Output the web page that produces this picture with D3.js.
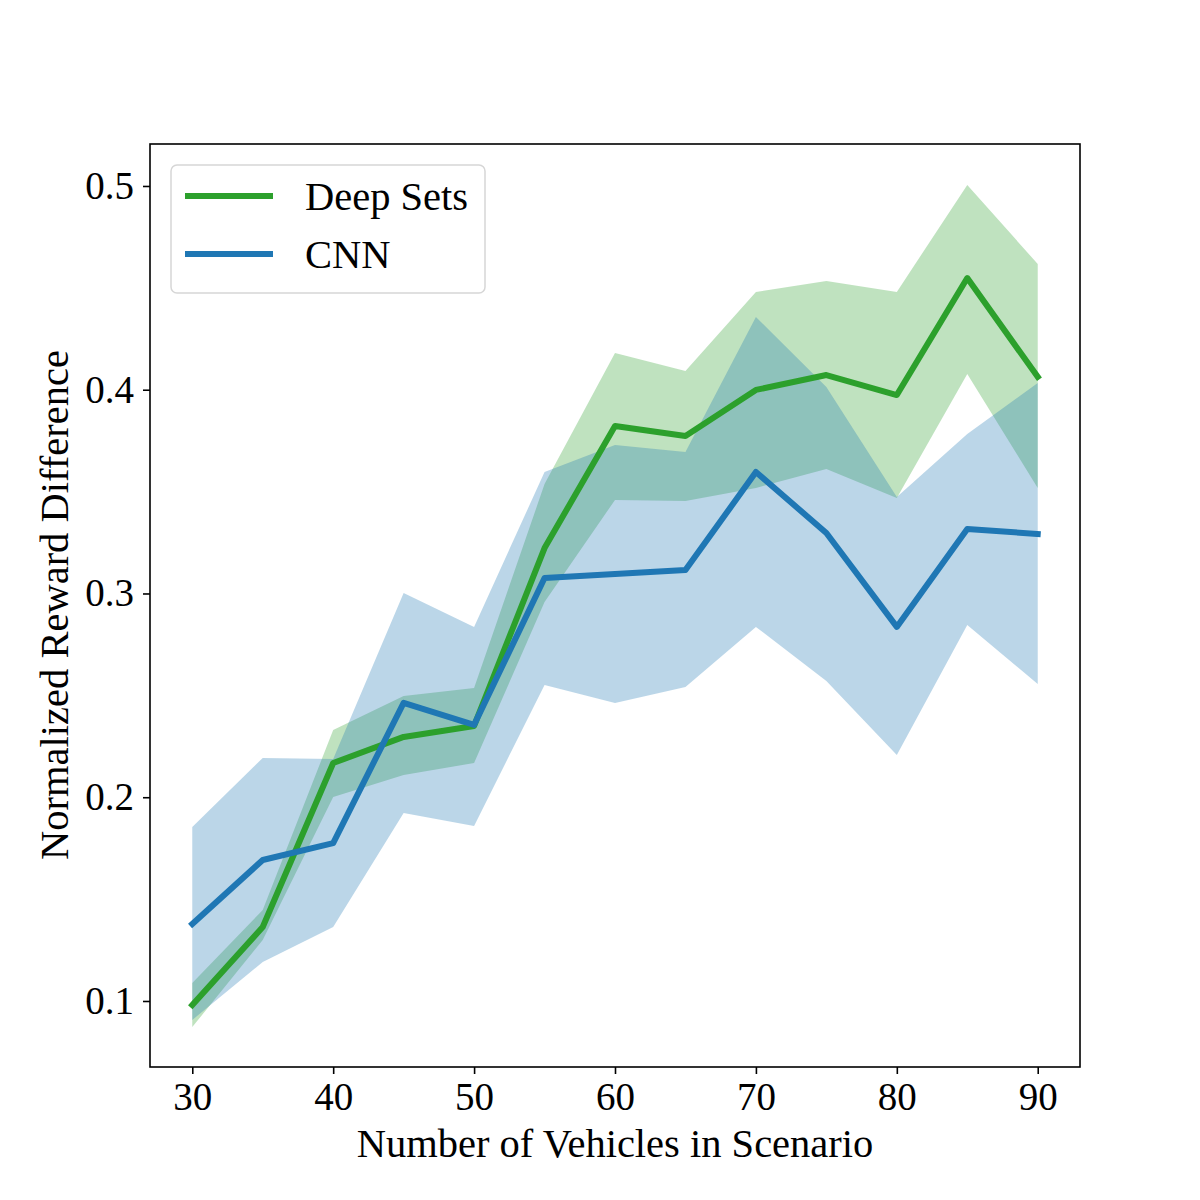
<!DOCTYPE html>
<html>
<head>
<meta charset="utf-8">
<script src="https://cdn.jsdelivr.net/npm/d3@7"></script>
<style>
  html, body { margin: 0; padding: 0; background: #fff; }
  svg { display: block; }
  text { font-family: "Liberation Serif", "DejaVu Serif", serif; fill: #000; }
</style>
</head>
<body>
<svg id="chart" width="1200" height="1200"></svg>
<script>
// ---- data ----
const vehicles = [30, 35, 40, 45, 50, 55, 60, 65, 70, 75, 80, 85, 90];

const deepSetsMean  = [0.0980, 0.1363, 0.2168, 0.2296, 0.2350, 0.3223, 0.3822, 0.3773, 0.3999, 0.4072, 0.3974, 0.4548, 0.4063];
const deepSetsUpper = [0.1088, 0.1447, 0.2330, 0.2497, 0.2536, 0.3537, 0.4180, 0.4092, 0.4480, 0.4534, 0.4480, 0.5005, 0.4617];
const deepSetsLower = [0.0872, 0.1299, 0.2001, 0.2109, 0.2168, 0.2958, 0.3459, 0.3454, 0.3518, 0.3611, 0.3469, 0.4077, 0.3518];

const cnnMean  = [0.1378, 0.1692, 0.1775, 0.2463, 0.2355, 0.3076, 0.3096, 0.3115, 0.3596, 0.3297, 0.2836, 0.3317, 0.3292];
const cnnUpper = [0.1854, 0.2193, 0.2188, 0.3002, 0.2836, 0.3596, 0.3729, 0.3694, 0.4357, 0.4013, 0.3474, 0.3783, 0.4033];
const cnnLower = [0.0907, 0.1191, 0.1363, 0.1923, 0.1859, 0.2551, 0.2463, 0.2541, 0.2836, 0.2571, 0.2207, 0.2845, 0.2556];

const xTicks = [30, 40, 50, 60, 70, 80, 90];
const yTicks = [0.1, 0.2, 0.3, 0.4, 0.5];

const seriesNames = ["Deep Sets", "CNN"];
const seriesColors = ["#2ca02c", "#1f77b4"];

// ---- layout ----
const plotLeft = 150, plotRight = 1080, plotTop = 144, plotBottom = 1067;
const svg = d3.select("#chart");

const x = d3.scaleLinear().domain([27, 93]).range([plotLeft, plotRight]);
const y = d3.scaleLinear().domain([0.0676, 0.5206]).range([plotBottom, plotTop]);

const series = [
  { name: seriesNames[0], color: seriesColors[0], mean: deepSetsMean, lo: deepSetsLower, hi: deepSetsUpper },
  { name: seriesNames[1], color: seriesColors[1], mean: cnnMean, lo: cnnLower, hi: cnnUpper }
];

const area = d3.area()
  .x((d, i) => x(vehicles[i]))
  .y0(d => y(d[0]))
  .y1(d => y(d[1]));
const line = d3.line()
  .x((d, i) => x(vehicles[i]))
  .y(d => y(d));

// bands
series.forEach(s => {
  svg.append("path")
    .datum(s.lo.map((v, i) => [v, s.hi[i]]))
    .attr("d", area)
    .attr("fill", s.color)
    .attr("fill-opacity", 0.3)
    .attr("stroke", "none");
});
// lines
series.forEach(s => {
  svg.append("path")
    .datum(s.mean)
    .attr("d", line)
    .attr("fill", "none")
    .attr("stroke", s.color)
    .attr("stroke-width", 6)
    .attr("stroke-linejoin", "round")
    .attr("stroke-linecap", "square");
});

// frame
svg.append("rect")
  .attr("x", plotLeft).attr("y", plotTop)
  .attr("width", plotRight - plotLeft).attr("height", plotBottom - plotTop)
  .attr("fill", "none").attr("stroke", "#000").attr("stroke-width", 1.6);

// axes
const xAxis = d3.axisBottom(x).tickValues(xTicks).tickSize(7).tickPadding(8).tickFormat(d3.format("d"));
const gx = svg.append("g").attr("transform", `translate(0,${plotBottom})`).call(xAxis);
gx.select(".domain").remove();
gx.selectAll(".tick line").attr("stroke", "#000").attr("stroke-width", 1.6);
gx.selectAll(".tick text").attr("font-size", 39).attr("font-family", "Liberation Serif, serif").attr("fill", "#000");

const yAxis = d3.axisLeft(y).tickValues(yTicks).tickSize(7).tickPadding(9).tickFormat(d3.format(".1f"));
const gy = svg.append("g").attr("transform", `translate(${plotLeft},0)`).call(yAxis);
gy.select(".domain").remove();
gy.selectAll(".tick line").attr("stroke", "#000").attr("stroke-width", 1.6);
gy.selectAll(".tick text").attr("font-size", 39).attr("font-family", "Liberation Serif, serif").attr("fill", "#000");

// axis labels
svg.append("text")
  .attr("x", 615).attr("y", 1157)
  .attr("text-anchor", "middle").attr("font-size", 40.5)
  .text("Number of Vehicles in Scenario");

svg.append("text")
  .attr("transform", `translate(68,605) rotate(-90)`)
  .attr("text-anchor", "middle").attr("font-size", 40.5)
  .text("Normalized Reward Difference");

// legend
const lg = svg.append("g");
lg.append("rect")
  .attr("x", 171).attr("y", 165).attr("width", 314).attr("height", 128)
  .attr("rx", 6).attr("ry", 6)
  .attr("fill", "#fff").attr("fill-opacity", 0.8)
  .attr("stroke", "#d6d6d6").attr("stroke-width", 1.5);
series.forEach((s, i) => {
  const ly = 196 + i * 58;
  lg.append("line")
    .attr("x1", 185).attr("x2", 273).attr("y1", ly).attr("y2", ly)
    .attr("stroke", s.color).attr("stroke-width", 6);
  lg.append("text")
    .attr("x", 305).attr("y", ly + 14)
    .attr("font-size", 40.5)
    .text(s.name);
});
</script>
</body>
</html>
